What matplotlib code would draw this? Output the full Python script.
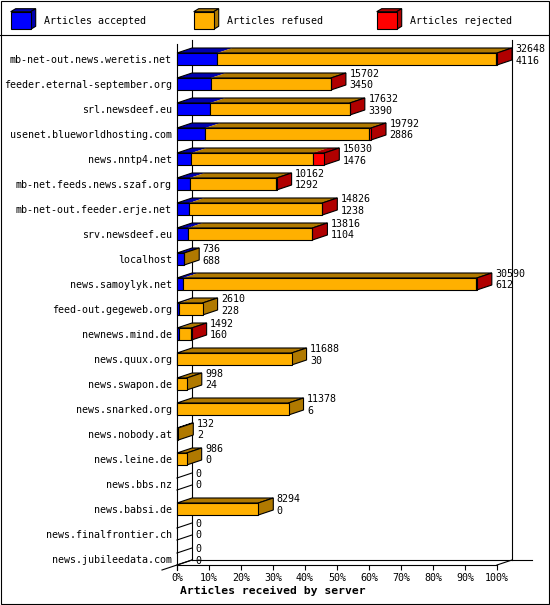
import matplotlib
matplotlib.use("Agg")
import matplotlib.pyplot as plt
from matplotlib.patches import Polygon, Rectangle

servers = [
    "mb-net-out.news.weretis.net", "feeder.eternal-september.org",
    "srl.newsdeef.eu", "usenet.blueworldhosting.com", "news.nntp4.net",
    "mb-net.feeds.news.szaf.org", "mb-net-out.feeder.erje.net",
    "srv.newsdeef.eu", "localhost", "news.samoylyk.net",
    "feed-out.gegeweb.org", "newnews.mind.de", "news.quux.org",
    "news.swapon.de", "news.snarked.org", "news.nobody.at",
    "news.leine.de", "news.bbs.nz", "news.babsi.de",
    "news.finalfrontier.ch", "news.jubileedata.com",
]
offered = [32648, 15702, 17632, 19792, 15030, 10162, 14826, 13816, 736, 30590,
           2610, 1492, 11688, 998, 11378, 132, 986, 0, 8294, 0, 0]
accepted = [4116, 3450, 3390, 2886, 1476, 1292, 1238, 1104, 688, 612,
            228, 160, 30, 24, 6, 2, 0, 0, 0, 0, 0]
rejected = [100, 30, 30, 180, 1190, 30, 30, 30, 0, 40,
            0, 80, 0, 0, 0, 0, 0, 0, 0, 0, 0]
refused = [o - a - r for o, a, r in zip(offered, accepted, rejected)]

legend_names = ["Articles accepted", "Articles refused", "Articles rejected"]
front_cols = ["#0000ff", "#ffb000", "#ff0000"]
dark_cols = ["#0000b0", "#b07900", "#b00000"]

W, H = 550, 605
mono = "DejaVu Sans Mono"
fs = 7.2
lw = 0.8

fig = plt.figure(figsize=(W / 100, H / 100), dpi=100)
fig.patch.set_facecolor("white")

# background axes in pixel units: frame, legend, title
bg = fig.add_axes([0, 0, 1, 1])
bg.set_xlim(0, W)
bg.set_ylim(H, 0)
bg.axis("off")
bg.add_patch(Rectangle((0.5, 0.5), W - 1.5, H - 1.5, fill=False, ec="black", lw=lw))
bg.plot([0, W], [35, 35], color="black", lw=lw)

for k, (name, fc, dc) in enumerate(zip(legend_names, front_cols, dark_cols)):
    x0 = 10.7 + 183 * k
    bg.add_patch(Polygon([(x0, 11.7), (x0 + 5, 8.7), (x0 + 25, 8.7), (x0 + 20, 11.7)],
                         closed=True, fc=dc, ec="black", lw=lw))
    bg.add_patch(Polygon([(x0 + 20, 11.7), (x0 + 25, 8.7), (x0 + 25, 26.3), (x0 + 20, 29.3)],
                         closed=True, fc=dc, ec="black", lw=lw))
    bg.add_patch(Rectangle((x0, 11.7), 20, 17.6, fc=fc, ec="black", lw=lw))
    bg.text(x0 + 33.5, 20.5, name, family=mono, size=fs, va="center", ha="left")

bg.text(180, 591, "Articles received by server", family=mono, size=8.2,
        weight="bold", va="center", ha="left")

# main axes: x in percent of the largest server, y in rows
ax = fig.add_axes([177 / W, (H - 565) / H, 320 / W, 525 / H])
ax.patch.set_alpha(0)
ax.set_xlim(0, 100)
ax.set_ylim(20.24, -0.76)
for s in ["top", "right", "left"]:
    ax.spines[s].set_visible(False)
ax.spines["bottom"].set_linewidth(lw)
ax.set_yticks([])
ax.set_xticks(range(0, 101, 10))
ax.set_xticklabels([f"{v}%" for v in range(0, 101, 10)], family=mono, size=fs)
ax.tick_params(axis="x", length=3.6, width=lw, pad=2)

dx = 15 / 3.2      # depth in percent
dy = 0.2           # depth in rows
h = 0.24           # half bar height in rows
px = 1 / 3.2       # one pixel in percent

# walls and floor (behind the bars)
wall = dict(color="black", lw=lw, clip_on=False, zorder=0.5)
ax.plot([0, 0], [-0.6, 20.44], **wall)
ax.plot([dx, dx], [-0.76, 20.04], **wall)
ax.plot([100 + dx, 100 + dx], [-0.76, 20.04], **wall)
ax.plot([dx, 110.9], [20.04, 20.04], **wall)
ax.plot([-dx, dx], [20.44, 20.04], **wall)
ax.plot([100, 100 + dx], [20.24, 20.04], **wall)

scale = 100 / max(offered)
for i, name in enumerate(servers):
    y = i
    ax.text(-1.6, y + 0.04, name, family=mono, size=fs, ha="right", va="center",
            clip_on=False)
    segs = [accepted[i], refused[i], rejected[i]]
    x = 0.0
    last = None
    for j, v in enumerate(segs):
        if v <= 0:
            continue
        w = v * scale
        ax.add_patch(Polygon([(x, y - h), (x + w, y - h), (x + w + dx, y - h - dy),
                              (x + dx, y - h - dy)], closed=True, fc=dark_cols[j],
                             ec="none", clip_on=False, zorder=1))
        ax.add_patch(Rectangle((x, y - h), w, 2 * h, fc=front_cols[j], ec="black",
                               lw=lw, clip_on=False, zorder=1.2))
        x += w
        last = j
    end = offered[i] * scale
    if last is not None:
        ax.add_patch(Polygon([(0, y - h), (end, y - h), (end + dx, y - h - dy),
                              (dx, y - h - dy)], closed=True, fc="none", ec="black",
                             lw=lw, clip_on=False, zorder=1.1))
        ax.add_patch(Polygon([(end, y - h), (end + dx, y - h - dy), (end + dx, y + h - dy),
                              (end, y + h)], closed=True, fc=dark_cols[last], ec="black",
                             lw=lw, clip_on=False, zorder=1.1))
    else:
        ax.plot([0, dx], [y - h, y - h - dy], color="black", lw=lw, clip_on=False)
        ax.plot([0, dx], [y + h, y + h - dy], color="black", lw=lw, clip_on=False)
    tx = end + dx + 3.5 * px
    ax.text(tx, y - 0.4, str(offered[i]), family=mono, size=fs, ha="left", va="center",
            clip_on=False)
    ax.text(tx, y + 0.06, str(accepted[i]), family=mono, size=fs, ha="left", va="center",
            clip_on=False)

fig.savefig("out.png", dpi=100)
